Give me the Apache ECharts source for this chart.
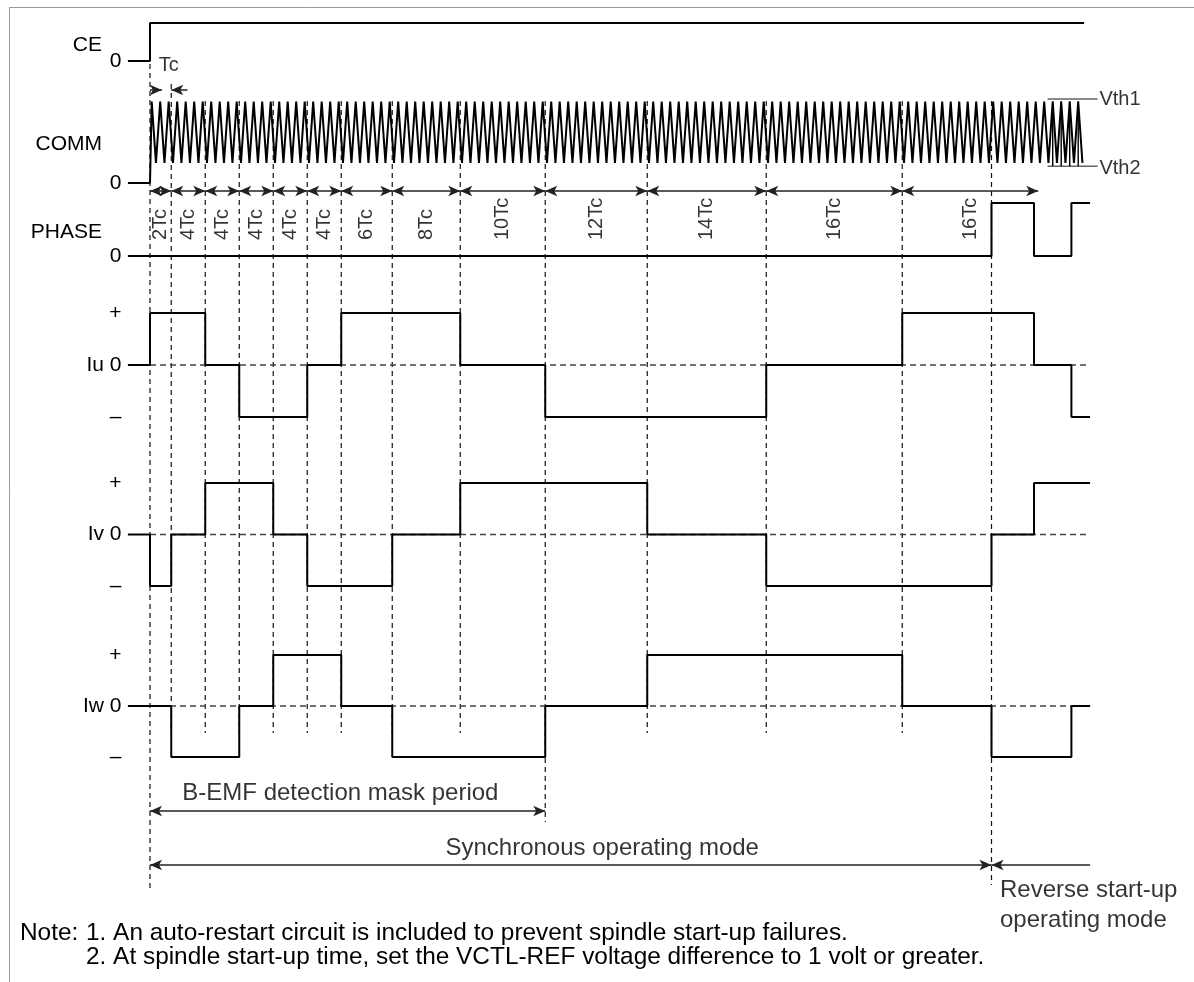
<!DOCTYPE html>
<html><head><meta charset="utf-8">
<script src="https://cdn.jsdelivr.net/npm/echarts@6/dist/echarts.min.js"></script>
<style>html,body{margin:0;padding:0;background:#fff}#c{width:1194px;height:982px}</style>
</head><body><div id="c"></div>
<script>
// ---- data (time in units of Tc) ----
const segLabels = ['2Tc','4Tc','4Tc','4Tc','4Tc','4Tc','6Tc','8Tc','10Tc','12Tc','14Tc','16Tc','16Tc'];
const segBounds = [0, 2.5, 6.5, 10.5, 14.5, 18.5, 22.5, 28.5, 36.5, 46.5, 58.5, 72.5, 88.5, 104.5];
const tcMark = [0, 1.4, 2.5, 4.4];
const reverseStart = 99;
const maskEnd = 46.5;
const leadIn = -2.6;
const signalEnd = 110.6;
const signalNames = ['CE', 'COMM', 'PHASE', 'Iu', 'Iv', 'Iw'];
const levelLabels = ['\u2013', '0', '+'];        // for levels -1, 0, +1
const ceSteps    = [[-2.6,0],[0,1],[109.9,1]];
const phaseSteps = [[-2.6,0],[99,1],[104,0],[108.4,1],[110.6,1]];
const iuSteps = [[-2.6,0],[0,1],[6.5,0],[10.5,-1],[18.5,0],[22.5,1],[36.5,0],[46.5,-1],[72.5,0],[88.5,1],[104,0],[108.4,-1],[110.6,-1]];
const ivSteps = [[-2.6,0],[0,-1],[2.5,0],[6.5,1],[14.5,0],[18.5,-1],[28.5,0],[36.5,1],[58.5,0],[72.5,-1],[99,0],[104,1],[110.6,1]];
const iwSteps = [[-2.6,0],[2.5,-1],[10.5,0],[14.5,1],[22.5,0],[28.5,-1],[46.5,0],[58.5,1],[88.5,0],[99,-1],[108.4,0],[110.6,0]];
const commLow = 0.24, commHigh = 0.97, vth1 = 1, vth2 = 0.2;
const commFirstPeak = 0.2, commPeriod = 1, commEnd = 110.1, commHatchFrom = 105.6, vthLineEnd = 111.5;
const noteLines = ['Note:', '1. An auto-restart circuit is included to prevent spindle start-up failures.', '2. At spindle start-up time, set the VCTL-REF voltage difference to 1 volt or greater.'];
const modeTexts = ['B-EMF detection mask period', 'Synchronous operating mode', 'Reverse start-up', 'operating mode'];
const vthLabels = ['Vth1', 'Vth2'];

// ---- layout ----
const FONT = '"Liberation Sans", Arial, Helvetica, sans-serif';
const FS = 21;        // signal labels
const FS_NOTE = 24;   // annotation text
const FS_BODY = 24.4; // note text
const FS_SMALL = 20;  // Tc, Vth, segment labels
const xMin = -3, xMax = 112, gLeft = 124.5, gRight = 92;
const gridBoxes = [
  {top: 0, height: 982},     // overlay
  {top: 23, height: 38},     // CE
  {top: 99, height: 84},     // COMM
  {top: 203, height: 53},    // PHASE
  {top: 313, height: 104},   // Iu
  {top: 483, height: 103},   // Iv
  {top: 655, height: 102}    // Iw
];

const grids = gridBoxes.map(b => ({left: gLeft, right: gRight, top: b.top, height: b.height}));
const xAxes = gridBoxes.map((b, i) => ({type: 'value', gridIndex: i, min: xMin, max: xMax, show: false}));
const labelStyle = {fontFamily: FONT, fontSize: FS, color: '#000', margin: 3};
const yAxes = [
  {type: 'value', gridIndex: 0, min: 0, max: 982, inverse: true, show: false},
  ...[1, 2, 3].map(i => ({type: 'value', gridIndex: i, min: 0, max: 1, interval: 1,
      axisLine: {show: false}, axisTick: {show: false}, splitLine: {show: false},
      axisLabel: Object.assign({}, labelStyle, {formatter: v => v === 0 ? '0' : ''})})),
  ...[4, 5, 6].map(i => ({type: 'value', gridIndex: i, min: -1, max: 1, interval: 1,
      axisLine: {show: false}, axisTick: {show: false}, splitLine: {show: false},
      axisLabel: Object.assign({}, labelStyle, {formatter: v => (v === 0 ? signalNames[i - 1] + ' 0' : levelLabels[v + 1])})}))
];

const series = [];
const base = {animation: false, silent: true};

// dashed vertical guides
const guideXs = segBounds.slice(0, -1).concat([reverseStart]);
guideXs.forEach(x => {
  let y0 = 101, y1 = 733;
  if (x === 0) { y0 = 64; y1 = 888; }
  else if (x === segBounds[1]) { y0 = 84; }
  if (x === maskEnd) y1 = 822;
  if (x === reverseStart) y1 = 885;
  series.push(Object.assign({type: 'line', xAxisIndex: 0, yAxisIndex: 0, data: [[x, y0], [x, y1]], symbol: 'none',
    lineStyle: {color: '#111', width: 1.2, type: [5, 4]}, z: 1}, base));
});

// zero reference dashes for currents
[4, 5, 6].forEach(i => series.push(Object.assign({type: 'line', xAxisIndex: i, yAxisIndex: i,
  data: [[0, 0], [signalEnd, 0]], symbol: 'none', lineStyle: {color: '#444', width: 1.5, type: [6, 4]}, z: 1}, base)));

// step signals
const stepSeries = [[1, ceSteps], [3, phaseSteps], [4, iuSteps], [5, ivSteps], [6, iwSteps]];
stepSeries.forEach(([i, d]) => series.push(Object.assign({type: 'line', xAxisIndex: i, yAxisIndex: i, data: d,
  step: 'end', symbol: 'none', clip: false, lineStyle: {color: '#000', width: 2}, z: 3}, base)));

// COMM triangle wave
const comm = [[leadIn, 0], [0, 0]];
const hatchPeaks = [];
for (let p = commFirstPeak; p + commPeriod / 2 <= commEnd + 1e-9; p += commPeriod) {
  comm.push([p, commHigh]);
  comm.push([p + commPeriod / 2, commLow]);
  if (p >= commHatchFrom) hatchPeaks.push(p);
}
series.push(Object.assign({type: 'line', xAxisIndex: 2, yAxisIndex: 2, data: comm, symbol: 'none', clip: false,
  lineStyle: {color: '#000', width: 2}, z: 3}, base));
hatchPeaks.forEach(p => series.push(Object.assign({type: 'line', xAxisIndex: 2, yAxisIndex: 2, data: [[p, commHigh], [p, vth2]],
  symbol: 'none', clip: false, lineStyle: {color: '#000', width: 1.4}, z: 3}, base)));
[vth1, vth2].forEach(v => series.push(Object.assign({type: 'line', xAxisIndex: 2, yAxisIndex: 2,
  data: [[commHatchFrom, v], [vthLineEnd, v]], symbol: 'none', clip: false, lineStyle: {color: '#666', width: 1.5}, z: 2}, base)));

// arrows
const arrowPairs = [];
const both = (x1, x2, y) => arrowPairs.push([{coord: [x1, y], symbol: 'arrow'}, {coord: [x2, y], symbol: 'arrow'}]);
const one = (x1, x2, y) => arrowPairs.push([{coord: [x1, y], symbol: 'none'}, {coord: [x2, y], symbol: 'arrow'}]);
for (let i = 0; i < segBounds.length - 1; i++) both(segBounds[i], segBounds[i + 1], 191);
one(tcMark[0], tcMark[1], 90);
one(tcMark[3], tcMark[2], 90);
both(0, maskEnd, 811);
both(0, reverseStart, 865);
one(signalEnd, reverseStart, 865);
series.push(Object.assign({type: 'line', xAxisIndex: 0, yAxisIndex: 0, data: [], symbol: 'none',
  markLine: {silent: true, symbol: ['arrow', 'arrow'], symbolSize: [8, 12], label: {show: false},
    lineStyle: {color: '#222', width: 1.5, type: 'solid'}, data: arrowPairs}, z: 2}, base));

// texts on the overlay
const txt = (x, y, s, extra) => ({value: [x, y], label: Object.assign({show: true, formatter: s, position: 'inside',
  fontFamily: FONT, fontSize: FS_NOTE, color: '#000', align: 'center', verticalAlign: 'middle'}, extra || {})});
const texts = [];
segLabels.forEach((s, i) => texts.push(txt((segBounds[i] + segBounds[i + 1]) / 2, 240, s, {rotate: 90, align: 'left', fontSize: FS_SMALL})));
texts.push(txt(2.2, 65, 'Tc', {fontSize: FS_SMALL}));
texts.push(txt(22.4, 793, modeTexts[0]));
texts.push(txt(53.2, 848, modeTexts[1]));
texts.push(txt(100, 890, modeTexts[2], {align: 'left'}));
texts.push(txt(100, 920, modeTexts[3], {align: 'left'}));
texts.push(txt(111.7, 99, vthLabels[0], {align: 'left', fontSize: FS_SMALL}));
texts.push(txt(111.7, 168, vthLabels[1], {align: 'left', fontSize: FS_SMALL}));
series.push(Object.assign({type: 'scatter', xAxisIndex: 0, yAxisIndex: 0, symbolSize: 1,
  itemStyle: {color: 'rgba(0,0,0,0)'}, data: texts, z: 5}, base));

const gtext = (x, y, s, align, fs) => ({type: 'text', x: x, y: y, style: {text: s, font: (fs || FS) + 'px ' + FONT, fill: '#000', align: align, verticalAlign: 'middle'}});
const graphic = [
  {type: 'line', shape: {x1: 9.5, y1: 7.5, x2: 1194, y2: 7.5}, style: {stroke: '#999', lineWidth: 1}},
  {type: 'line', shape: {x1: 9.5, y1: 7.5, x2: 9.5, y2: 982}, style: {stroke: '#999', lineWidth: 1}},
  gtext(102, 45, signalNames[0], 'right'),
  gtext(102, 144, signalNames[1], 'right'),
  gtext(102, 232, signalNames[2], 'right'),
  gtext(20, 933, noteLines[0], 'left', FS_BODY),
  gtext(86, 933, noteLines[1], 'left', FS_BODY),
  gtext(86, 957, noteLines[2], 'left', FS_BODY)
];

const chart = echarts.init(document.getElementById('c'), null, {renderer: 'canvas'});
chart.setOption({animation: false, backgroundColor: '#fff', grid: grids, xAxis: xAxes, yAxis: yAxes, series: series, graphic: graphic});
</script></body></html>
